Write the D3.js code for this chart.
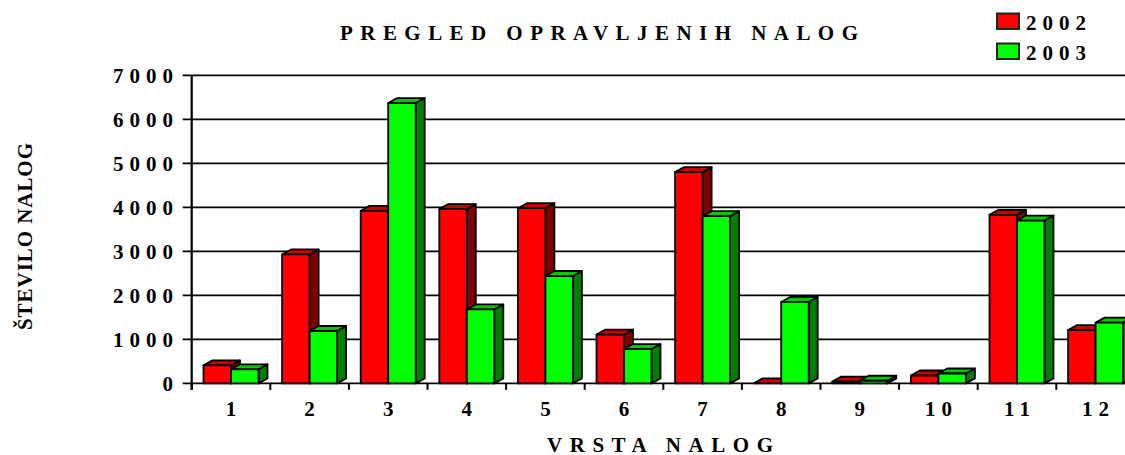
<!DOCTYPE html>
<html>
<head>
<meta charset="utf-8">
<script src="https://cdn.jsdelivr.net/npm/d3@7"></script>
<style>
  body { margin: 0; background: #fff; }
  text { font-family: "Liberation Serif", "Times New Roman", serif; font-weight: bold; fill: #000; }
</style>
</head>
<body>
<svg id="chart"></svg>
<script>
// data
var categories = ["1", "2", "3", "4", "5", "6", "7", "8", "9", "10", "11", "12"];
var values2002 = [410, 2930, 3920, 3960, 3980, 1110, 4800, 0, 40, 180, 3830, 1210];
var values2003 = [320, 1190, 6370, 1680, 2440, 780, 3800, 1850, 60, 225, 3700, 1380];
var yTicks = [0, 1000, 2000, 3000, 4000, 5000, 6000, 7000];
var seriesNames = ["2002", "2003"];

var W = 1125, H = 455;
var plotLeft = 191.7, plotTop = 75.3, plotBottom = 383.4, band = 78.6;
var ls = 6; // letter spacing of labels
var fs = "21px";

var svg = d3.select("#chart")
  .attr("width", W)
  .attr("height", H);

var x = d3.scaleBand()
  .domain(categories)
  .range([plotLeft, plotLeft + band * categories.length])
  .padding(0);

var y = d3.scaleLinear()
  .domain([0, 7000])
  .range([plotBottom, plotTop]);

// gridlines
svg.append("g")
  .selectAll("line")
  .data(yTicks)
  .enter()
  .append("line")
  .attr("x1", plotLeft - 9)
  .attr("x2", W + 10)
  .attr("y1", function(d) { return y(d); })
  .attr("y2", function(d) { return y(d); })
  .attr("stroke", "#000")
  .attr("stroke-width", 1.8);

// y tick labels
svg.append("g")
  .selectAll("text")
  .data(yTicks)
  .enter()
  .append("text")
  .attr("x", 173 + ls)
  .attr("y", function(d) { return y(d); })
  .attr("dy", "0.35em")
  .attr("text-anchor", "end")
  .style("font-size", fs)
  .style("letter-spacing", ls + "px")
  .text(function(d) { return d; });

// x ticks
var xTickPos = categories.map(function(c) { return x(c); }).concat([x(categories[11]) + band]);
svg.append("g")
  .selectAll("line")
  .data(xTickPos)
  .enter()
  .append("line")
  .attr("x1", function(d) { return d; })
  .attr("x2", function(d) { return d; })
  .attr("y1", plotBottom)
  .attr("y2", plotBottom + 6.5)
  .attr("stroke", "#000")
  .attr("stroke-width", 2);

// y axis line
svg.append("line")
  .attr("x1", plotLeft).attr("x2", plotLeft)
  .attr("y1", plotTop).attr("y2", plotBottom + 6.5)
  .attr("stroke", "#000")
  .attr("stroke-width", 2.2);

// x tick labels
svg.append("g")
  .selectAll("text")
  .data(categories)
  .enter()
  .append("text")
  .attr("x", function(d) { return x(d) + x.bandwidth() / 2 + (d.length > 1 ? ls / 2 : 0); })
  .attr("y", 416)
  .attr("text-anchor", "middle")
  .style("font-size", fs)
  .style("letter-spacing", function(d) { return d.length > 1 ? ls + "px" : "0px"; })
  .text(function(d) { return d; });

// 3d bars
var bw = 27.5, dx = 9, dy = 5;
var colors = [
  {front: "#ff0000", top: "#c80000", side: "#800000"},
  {front: "#00ff00", top: "#00c800", side: "#008000"}
];

function drawBar(g, x0, v, c) {
  var x1 = x0 + bw, yt = y(v), y0 = y(0);
  g.append("path")
    .attr("d", "M" + x1 + "," + yt + "L" + (x1 + dx) + "," + (yt - dy) + "L" + (x1 + dx) + "," + (y0 - dy) + "L" + x1 + "," + y0 + "Z")
    .attr("fill", c.side);
  g.append("path")
    .attr("d", "M" + x0 + "," + yt + "L" + (x0 + dx) + "," + (yt - dy) + "L" + (x1 + dx) + "," + (yt - dy) + "L" + x1 + "," + yt + "Z")
    .attr("fill", c.top);
  g.append("rect")
    .attr("x", x0)
    .attr("y", yt)
    .attr("width", bw)
    .attr("height", y0 - yt)
    .attr("fill", c.front);
}

var bars = svg.append("g")
  .attr("stroke", "#000")
  .attr("stroke-width", 1.8)
  .attr("stroke-linejoin", "round");

categories.forEach(function(c, i) {
  var cx = x(c) + x.bandwidth() / 2;
  drawBar(bars, cx - bw, values2002[i], colors[0]);
  drawBar(bars, cx, values2003[i], colors[1]);
});

// title
svg.append("text")
  .attr("x", 340)
  .attr("y", 40)
  .attr("textLength", 518)
  .attr("lengthAdjust", "spacing")
  .style("font-size", fs)
  .text("PREGLED OPRAVLJENIH NALOG");

// axis titles
svg.append("text")
  .attr("x", 547)
  .attr("y", 451.5)
  .attr("textLength", 226)
  .attr("lengthAdjust", "spacing")
  .style("font-size", fs)
  .text("VRSTA NALOG");

svg.append("text")
  .attr("transform", "translate(32,330) rotate(-90)")
  .attr("textLength", 187)
  .attr("lengthAdjust", "spacing")
  .style("font-size", fs)
  .text("ŠTEVILO NALOG");

// legend
var legend = svg.append("g");
seriesNames.forEach(function(s, i) {
  legend.append("rect")
    .attr("x", 997)
    .attr("y", 13.5 + i * 30)
    .attr("width", 22)
    .attr("height", 15.5)
    .attr("fill", colors[i].front)
    .attr("stroke", "#222")
    .attr("stroke-width", 2);
  legend.append("text")
    .attr("x", 1026)
    .attr("y", 29.5 + i * 30)
    .style("font-size", fs)
    .style("letter-spacing", ls + "px")
    .text(s);
});
</script>
</body>
</html>
